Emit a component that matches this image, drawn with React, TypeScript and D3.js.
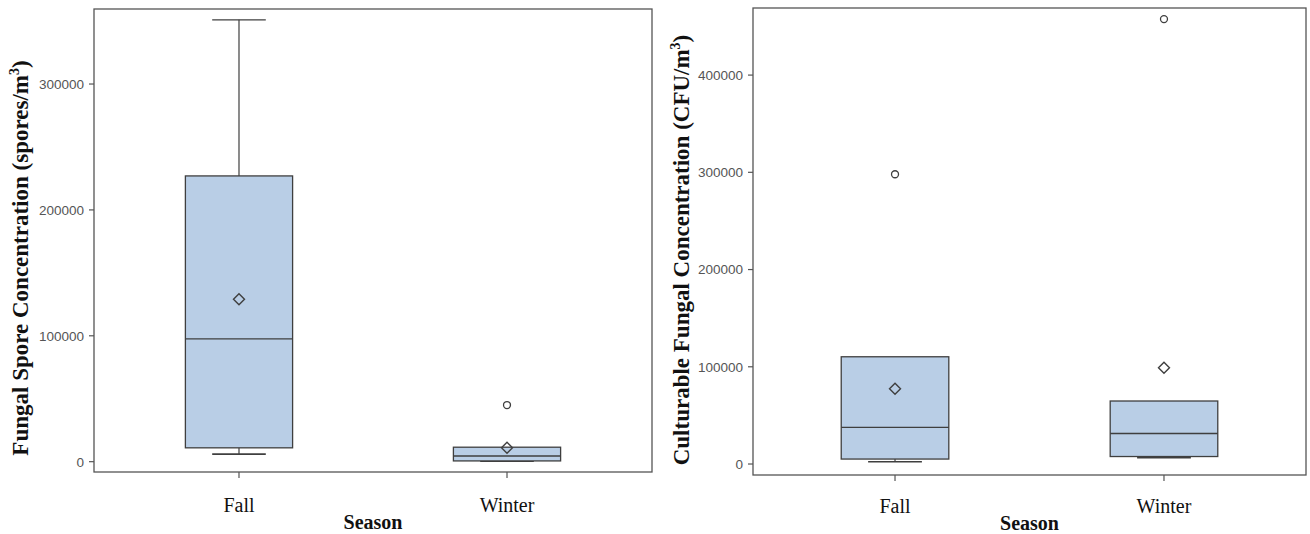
import React from "react";
import * as d3 from "d3";

const categories = ["Fall", "Winter"];

// Left panel: fungal spore concentration (spores/m3)
const sporeMin = [6000, 300];
const sporeQ1 = [11000, 600];
const sporeMedian = [97500, 4500];
const sporeQ3 = [227000, 11500];
const sporeMax = [351000, 11500];
const sporeMean = [129000, 11000];
const sporeOutliers = [[], [45000]];
const sporeTicks = [0, 100000, 200000, 300000];

// Right panel: culturable fungal concentration (CFU/m3)
const cfuMin = [2400, 6500];
const cfuQ1 = [5100, 7700];
const cfuMedian = [37700, 31400];
const cfuQ3 = [110300, 64800];
const cfuMax = [110300, 64800];
const cfuMean = [77400, 99000];
const cfuOutliers = [[298000], [457600]];
const cfuTicks = [0, 100000, 200000, 300000, 400000];

const FILL = "#b9cee6";
const STROKE = "#3f3f3f";
const AXIS = "#555555";

type PanelProps = {
  x0: number;
  x1: number;
  y0: number;
  y1: number;
  domain: [number, number];
  padding: number;
  min: number[];
  q1: number[];
  med: number[];
  q3: number[];
  max: number[];
  mean: number[];
  outliers: number[][];
  ticks: number[];
  title: string;
  titleX: number;
  titleY: number;
  labelY: number;
  seasonY: number;
};

function Panel(p: PanelProps) {
  const x = d3.scalePoint<string>().domain(categories).range([p.x0, p.x1]).padding(p.padding);
  const y = d3.scaleLinear().domain(p.domain).range([p.y1, p.y0]);
  const step = x.step();
  const bw = step * 0.4;
  const cw = step * 0.2;
  const diamond = (cx: number, cy: number, r: number) =>
    `M${cx},${cy - r}L${cx + r},${cy}L${cx},${cy + r}L${cx - r},${cy}Z`;
  return (
    <g>
      <rect x={p.x0} y={p.y0} width={p.x1 - p.x0} height={p.y1 - p.y0} fill="none" stroke={AXIS} strokeWidth={1.3} />
      {p.ticks.map((t) => (
        <g key={t}>
          <line x1={p.x0 - 5} x2={p.x0} y1={y(t)} y2={y(t)} stroke={AXIS} strokeWidth={1.2} />
          <text
            x={p.x0 - 10}
            y={y(t)}
            dy="0.36em"
            textAnchor="end"
            fontFamily="'Liberation Sans Narrow', 'Liberation Sans', Arial, sans-serif"
            fontSize={13.5}
            fill="#555"
          >
            {t}
          </text>
        </g>
      ))}
      {categories.map((c) => (
        <g key={c}>
          <line x1={x(c)!} x2={x(c)!} y1={p.y1} y2={p.y1 + 6} stroke={AXIS} strokeWidth={1.2} />
          <text x={x(c)!} y={p.labelY} textAnchor="middle" fontFamily="'Liberation Serif', 'Times New Roman', serif" fontSize={20} fill="#111">
            {c}
          </text>
        </g>
      ))}
      <text x={(p.x0 + p.x1) / 2} y={p.seasonY} textAnchor="middle" fontFamily="'Liberation Serif', 'Times New Roman', serif" fontWeight="bold" fontSize={20} fill="#111">
        Season
      </text>
      <text
        transform={`translate(${p.titleX},${p.titleY}) rotate(-90)`}
        textAnchor="middle"
        fontFamily="'Liberation Serif', 'Times New Roman', serif"
        fontWeight="bold"
        fontSize={23}
        fill="#111"
      >
        {p.title}
        <tspan fontSize={14} dy={-9}>3</tspan>
        <tspan dy={9}>)</tspan>
      </text>
      {categories.map((c, i) => {
        const cx = x(c)!;
        return (
          <g key={c}>
            {p.max[i] > p.q3[i] && (
              <>
                <line x1={cx} x2={cx} y1={y(p.q3[i])} y2={y(p.max[i])} stroke={STROKE} strokeWidth={1.2} />
                <line x1={cx - cw / 2} x2={cx + cw / 2} y1={y(p.max[i])} y2={y(p.max[i])} stroke={STROKE} strokeWidth={1.2} />
              </>
            )}
            <line x1={cx} x2={cx} y1={y(p.q1[i])} y2={y(p.min[i])} stroke={STROKE} strokeWidth={1.2} />
            <line x1={cx - cw / 2} x2={cx + cw / 2} y1={y(p.min[i])} y2={y(p.min[i])} stroke={STROKE} strokeWidth={1.6} />
            <rect x={cx - bw / 2} y={y(p.q3[i])} width={bw} height={y(p.q1[i]) - y(p.q3[i])} fill={FILL} stroke={STROKE} strokeWidth={1.3} />
            <line x1={cx - bw / 2} x2={cx + bw / 2} y1={y(p.med[i])} y2={y(p.med[i])} stroke={STROKE} strokeWidth={1.3} />
            <path d={diamond(cx, y(p.mean[i]), 5.5)} fill="none" stroke={STROKE} strokeWidth={1.4} />
            {p.outliers[i].map((o, k) => (
              <circle key={k} cx={cx} cy={y(o)} r={3.5} fill="none" stroke={STROKE} strokeWidth={1.3} />
            ))}
          </g>
        );
      })}
    </g>
  );
}

export default function App() {
  return (
    <svg width={1310} height={534} style={{ position: "absolute", left: 0, top: 0, background: "#fff" }}>
      <rect width={1310} height={534} fill="#fff" />
      <Panel
        x0={94}
        x1={652}
        y0={9}
        y1={472}
        domain={[-8200, 359600]}
        padding={0.541}
        min={sporeMin}
        q1={sporeQ1}
        med={sporeMedian}
        q3={sporeQ3}
        max={sporeMax}
        mean={sporeMean}
        outliers={sporeOutliers}
        ticks={sporeTicks}
        title="Fungal Spore Concentration (spores/m"
        titleX={28}
        titleY={258}
        labelY={512}
        seasonY={529}
      />
      <Panel
        x0={753}
        x1={1306}
        y0={8}
        y1={475}
        domain={[-11300, 469000]}
        padding={0.528}
        min={cfuMin}
        q1={cfuQ1}
        med={cfuMedian}
        q3={cfuQ3}
        max={cfuMax}
        mean={cfuMean}
        outliers={cfuOutliers}
        ticks={cfuTicks}
        title="Culturable Fungal Concentration (CFU/m"
        titleX={689}
        titleY={250}
        labelY={513}
        seasonY={530}
      />
    </svg>
  );
}
